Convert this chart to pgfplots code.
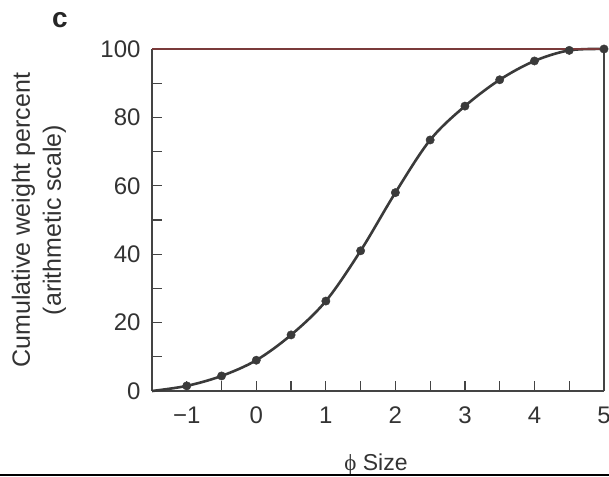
\documentclass[border=0pt]{standalone}
\usepackage{fontspec}
\setmainfont{Liberation Sans}
\newfontfamily\phifont{Liberation Serif}
\usepackage{pgfplots}
\pgfplotsset{compat=1.18}
\definecolor{curve}{HTML}{3A3A3A}
\definecolor{axcol}{HTML}{444444}
\definecolor{topcol}{HTML}{7A3A3A}
\begin{document}
\begin{tikzpicture}
\useasboundingbox (0pt,0pt) rectangle (609pt,476pt);
\begin{axis}[
  at={(152pt,85pt)}, anchor=south west,
  scale only axis, width=452pt, height=342pt,
  xmin=-1.5, xmax=5, ymin=0, ymax=100,
  axis x line*=bottom, axis y line*=left,
  axis line style={draw=axcol, line width=1.4pt, -},
  xtick={-1,0,1,2,3,4,5},
  xticklabels={−1,0,1,2,3,4,5},
  minor xtick={-1,-0.5,0,0.5,1,1.5,2,2.5,3,3.5,4,4.5},
  ytick={0,20,40,60,80,100},
  minor ytick={10,30,50,70,90},
  tick align=inside,
  major tick length=10pt, minor tick length=10pt,
  tick style={draw=axcol, line width=1.2pt},
  ticklabel style={font=\fontsize{24}{24}\selectfont, text=black!80},
  /pgf/number format/assume math mode=true,
  xticklabel style={yshift=-12pt},
  yticklabel style={xshift=-8pt},
  clip=false,
]
\addplot[curve, line width=2.6pt, smooth, tension=0.55] coordinates {
 (-1.5,0) (-1,1.5) (-0.5,4.4) (0,9) (0.5,16.4) (1,26.3) (1.5,41) (2,58) (2.5,73.4) (3,83.3) (3.5,91) (4,96.5) (4.5,99.6) (5,100)
};
\addplot[only marks, mark=*, mark size=4.2pt, mark options={fill=curve, draw=curve}] coordinates {
 (-1,1.5) (-0.5,4.4) (0,9) (0.5,16.4) (1,26.3) (1.5,41) (2,58) (2.5,73.4) (3,83.3) (3.5,91) (4,96.5) (4.5,99.6) (5,100)
};
\draw[topcol, line width=1.2pt] (rel axis cs:0,1) -- (rel axis cs:1,1);
\draw[axcol, line width=1.4pt] (rel axis cs:1,0) -- (rel axis cs:1,1);
\end{axis}
\node[font=\fontsize{25}{31}\selectfont, text=black!80, align=center, rotate=90] at (39pt,256pt) {Cumulative weight percent\\(arithmetic scale)};
\node[font=\fontsize{28}{28}\selectfont\bfseries, text=black!85] at (60pt,456pt) {c};
\node[font=\fontsize{23}{23}\selectfont, text=black!80, anchor=base] at (376pt,6pt) {{\phifont ϕ} Size};
\draw[black, line width=2pt] (0pt,1pt) -- (609pt,1pt);
\end{tikzpicture}
\end{document}
